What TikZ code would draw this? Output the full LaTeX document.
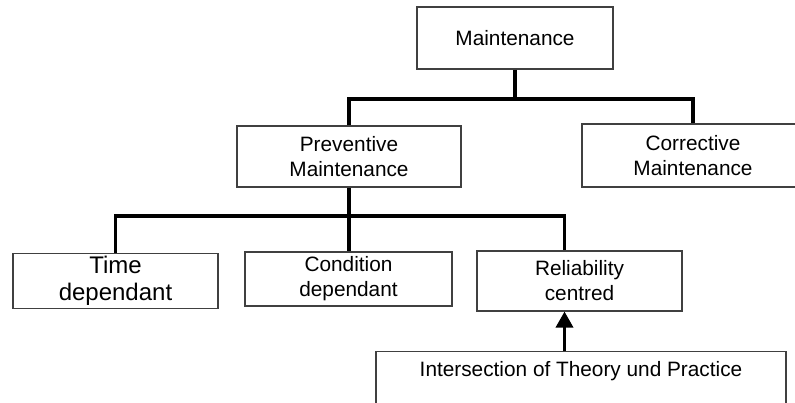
\documentclass[tikz,border=0pt]{standalone}
\usepackage{fontspec}
\setmainfont{Liberation Sans}
\usetikzlibrary{arrows.meta}
\begin{document}
\begin{tikzpicture}[x=1pt,y=-1pt,
  box/.style={draw=black!75, line width=1.1pt, fill=white, align=center,
    font=\fontsize{20.8}{25}\selectfont, inner sep=0pt},
  bigtext/.style={font=\fontsize{24}{27}\selectfont},
  link/.style={line width=3.5pt, line cap=butt, line join=miter}]
\useasboundingbox (0,0) rectangle (795,403);
\clip (0,0) rectangle (795,403);

% boxes of the hierarchy
\node[box, minimum width=196pt, minimum height=62pt] (maint) at (515,38) {Maintenance};
\node[box, minimum width=224pt, minimum height=61pt] (prev) at (349,156.5) {Preventive\\Maintenance};
\node[box, minimum width=222pt, minimum height=63pt] (corr) at (693,155.5) {Corrective\\Maintenance};
\node[box, bigtext, minimum width=205pt, minimum height=55pt] (time) at (115.5,281) {Time\\dependant};
\node[box, minimum width=207pt, minimum height=54pt] (cond) at (348.5,279) {Condition\\dependant};
\node[box, minimum width=205pt, minimum height=60pt] (rel) at (579.5,281) {Reliability\\centred};
\node[box, anchor=north, minimum width=410pt, inner ysep=10pt,
  text height=15pt, text depth=40pt] (inter) at (581,351) {Intersection of Theory und Practice};

% junction points of the tree
\coordinate (j1) at (515,99);
\coordinate (j2) at (349,216);
\coordinate (relin) at ([xshift=-15pt]rel.north);

% first level
\draw[link] (maint.south) -- (j1);
\draw[link] (prev.north) -- (prev.north |- j1) -- (corr.north |- j1) -- (corr.north);

% second level
\draw[link] (prev.south) -- (prev.south |- cond.north);
\draw[link] (time.north) -- (time.north |- j2) -- (relin |- j2) -- (relin);

% input arrow
\draw[link, -{Triangle[length=16pt,width=17pt]}] (inter.north -| relin) -- (rel.south -| relin);
\end{tikzpicture}
\end{document}
